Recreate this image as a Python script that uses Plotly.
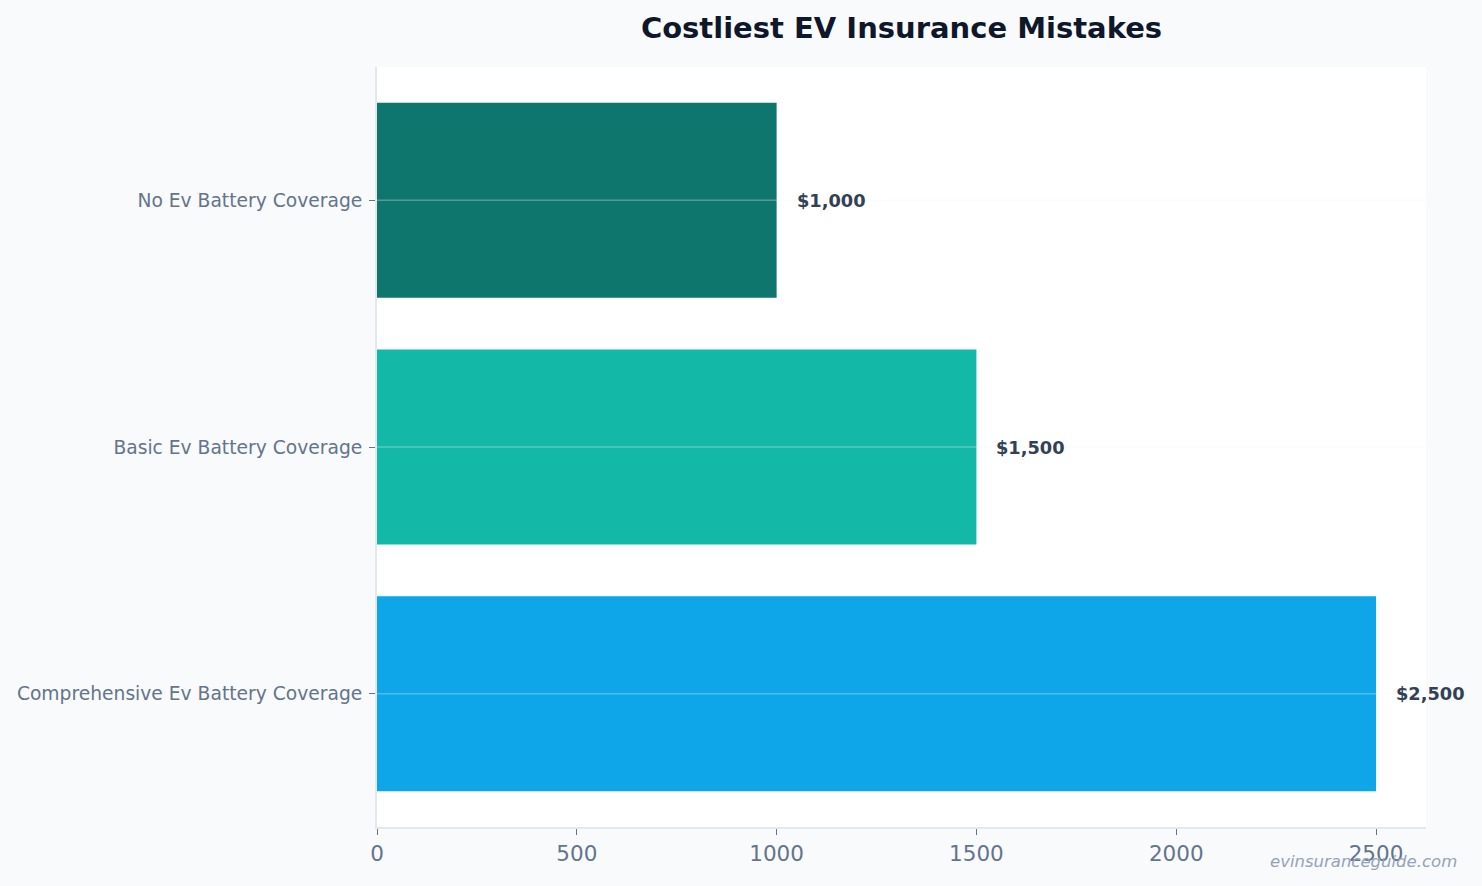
import plotly.graph_objects as go

categories = ["Comprehensive Ev Battery Coverage", "Basic Ev Battery Coverage", "No Ev Battery Coverage"]
values = [2500, 1500, 1000]
colors = ["#0EA5E9", "#14B8A6", "#0F766E"]
labels = ["$2,500", "$1,500", "$1,000"]

fig = go.Figure()
fig.add_trace(go.Bar(
    x=values, y=categories, orientation="h",
    marker=dict(color=colors, line=dict(width=0)),
    hoverinfo="skip",
))

for c, v, t in zip(categories, values, labels):
    fig.add_annotation(x=v, y=c, text=f"<b>{t}</b>", showarrow=False,
                       xanchor="left", xshift=18,
                       font=dict(family="DejaVu Sans", size=17.8, color="#334155"))
    # grid line drawn above the bars, as in the reference
    fig.add_shape(type="line", xref="paper", x0=0, x1=1, y0=c, y1=c, yref="y",
                  layer="above", line=dict(color="rgba(241,245,249,0.3)", width=1.5))

fig.add_annotation(text="<i>evinsuranceguide.com</i>", xref="paper", yref="paper",
                   x=1.0315, y=-0.046, xanchor="right", yanchor="middle", showarrow=False,
                   font=dict(family="DejaVu Sans", size=16.5, color="#94A3B8"))

fig.update_layout(
    width=1482, height=886,
    paper_bgcolor="#F8FAFC", plot_bgcolor="#FFFFFF",
    margin=dict(l=377, r=56, t=67, b=59),
    bargap=0.21,
    showlegend=False,
    title=dict(text="<b>Costliest EV Insurance Mistakes</b>", x=0.5, xref="paper",
               y=0.969, yref="container", yanchor="middle",
               font=dict(family="DejaVu Sans", size=29, color="#0F172A")),
    font=dict(family="DejaVu Sans"),
    xaxis=dict(range=[0, 2625], showgrid=False, zeroline=False,
               showline=True, linecolor="#E2E8F0", linewidth=2,
               ticks="outside", ticklen=6, tickcolor="#64748B",
               tickvals=[0, 500, 1000, 1500, 2000, 2500],
               tickfont=dict(size=21.5, color="#64748B")),
    yaxis=dict(range=[-0.54, 2.54], showgrid=False,
               layer="above traces",
               showline=True, linecolor="#E2E8F0", linewidth=2,
               ticks="outside", ticklen=6, tickcolor="#64748B",
               ticklabelstandoff=3,
               tickfont=dict(size=18.7, color="#64748B")),
)

fig.write_html("out.html")
